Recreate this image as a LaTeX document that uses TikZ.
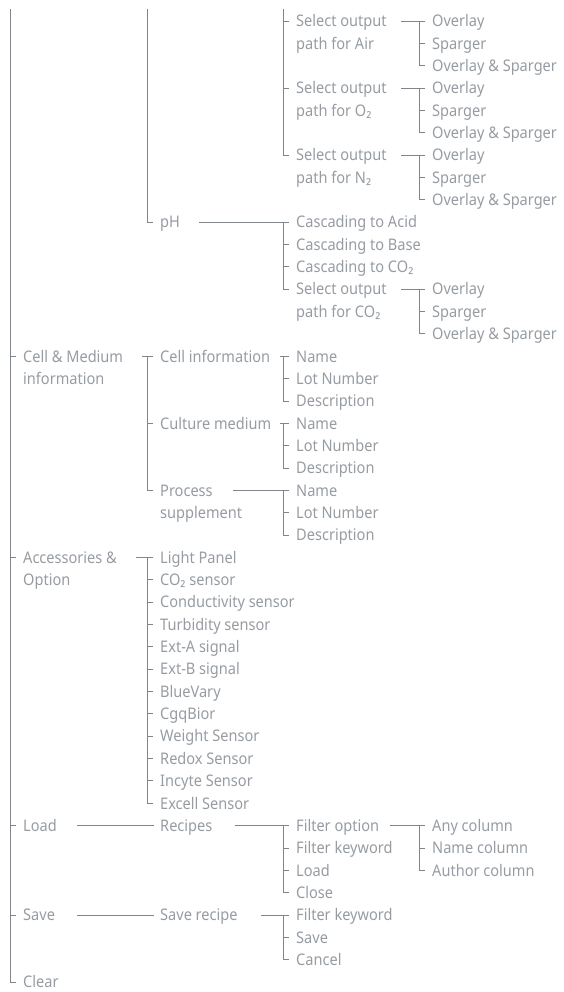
\documentclass[tikz,border=0pt]{standalone}
\usepackage{fontspec}
\setmainfont[FakeStretch=0.91]{Noto Sans}
\usetikzlibrary{calc}
\definecolor{txtc}{RGB}{150,156,162}
\definecolor{linec}{RGB}{128,134,140}
\newcommand{\rowy}[1]{{21+22.35*#1}}
\newcommand{\brk}[4]{%
  \draw[ln] (#1 |- #2.west) -- (#1 |- #3.west) -- ++(6,0);
  \foreach \m in {#4} {\draw[ln] (#1 |- \m.west) -- ++(6,0);}
}
\newcommand{\topline}[4]{% parent, dx, vertical, first child
  \draw[ln] ($(#1.west)+(#2,0)$) -- ($(#3 |- #4.west)+(6,0)$);
}
\begin{document}
\begin{tikzpicture}[x=1pt,y=-1pt,
  lbl/.style={anchor=west, inner sep=0pt, text height=11.5pt, text depth=0pt,
    text=txtc, font=\fontsize{16}{19}\selectfont},
  ln/.style={draw=linec, line width=0.9pt}]
\useasboundingbox (0,0) rectangle (564,992);
\coordinate (v1) at (10,9);
\coordinate (v2) at (147,9);
\coordinate (v3) at (283,9);
\coordinate (v4) at (419,9);
% ---- nodes
\node[lbl] (sa)  at (296,\rowy{0}) {Select output};
\node[lbl] (sa2) at (296,\rowy{1}) {path for Air};
\node[lbl] (oa1) at (432,\rowy{0}) {Overlay};
\node[lbl] (oa2) at (432,\rowy{1}) {Sparger};
\node[lbl] (oa3) at (432,\rowy{2}) {Overlay \& Sparger};
\node[lbl] (so)  at (296,\rowy{3}) {Select output};
\node[lbl] (so2) at (296,\rowy{4}) {path for O₂};
\node[lbl] (oo1) at (432,\rowy{3}) {Overlay};
\node[lbl] (oo2) at (432,\rowy{4}) {Sparger};
\node[lbl] (oo3) at (432,\rowy{5}) {Overlay \& Sparger};
\node[lbl] (sn)  at (296,\rowy{6}) {Select output};
\node[lbl] (sn2) at (296,\rowy{7}) {path for N₂};
\node[lbl] (on1) at (432,\rowy{6}) {Overlay};
\node[lbl] (on2) at (432,\rowy{7}) {Sparger};
\node[lbl] (on3) at (432,\rowy{8}) {Overlay \& Sparger};
\node[lbl] (ph)  at (160,\rowy{9}) {pH};
\node[lbl] (ca)  at (296,\rowy{9}) {Cascading to Acid};
\node[lbl] (cb)  at (296,\rowy{10}) {Cascading to Base};
\node[lbl] (cc)  at (296,\rowy{11}) {Cascading to CO₂};
\node[lbl] (sc)  at (296,\rowy{12}) {Select output};
\node[lbl] (sc2) at (296,\rowy{13}) {path for CO₂};
\node[lbl] (oc1) at (432,\rowy{12}) {Overlay};
\node[lbl] (oc2) at (432,\rowy{13}) {Sparger};
\node[lbl] (oc3) at (432,\rowy{14}) {Overlay \& Sparger};
\node[lbl] (cm)  at (23,\rowy{15}) {Cell \& Medium};
\node[lbl] (cm2) at (23,\rowy{16}) {information};
\node[lbl] (ci)  at (160,\rowy{15}) {Cell information};
\node[lbl] (n1)  at (296,\rowy{15}) {Name};
\node[lbl] (l1)  at (296,\rowy{16}) {Lot Number};
\node[lbl] (d1)  at (296,\rowy{17}) {Description};
\node[lbl] (cu)  at (160,\rowy{18}) {Culture medium};
\node[lbl] (n2)  at (296,\rowy{18}) {Name};
\node[lbl] (l2)  at (296,\rowy{19}) {Lot Number};
\node[lbl] (d2)  at (296,\rowy{20}) {Description};
\node[lbl] (pr)  at (160,\rowy{21}) {Process};
\node[lbl] (pr2) at (160,\rowy{22}) {supplement};
\node[lbl] (n3)  at (296,\rowy{21}) {Name};
\node[lbl] (l3)  at (296,\rowy{22}) {Lot Number};
\node[lbl] (d3)  at (296,\rowy{23}) {Description};
\node[lbl] (acc) at (23,\rowy{24}) {Accessories \&};
\node[lbl] (acc2) at (23,\rowy{25}) {Option};
\node[lbl] (a1)  at (160,\rowy{24}) {Light Panel};
\node[lbl] (a2)  at (160,\rowy{25}) {CO₂ sensor};
\node[lbl] (a3)  at (160,\rowy{26}) {Conductivity sensor};
\node[lbl] (a4)  at (160,\rowy{27}) {Turbidity sensor};
\node[lbl] (a5)  at (160,\rowy{28}) {Ext-A signal};
\node[lbl] (a6)  at (160,\rowy{29}) {Ext-B signal};
\node[lbl] (a7)  at (160,\rowy{30}) {BlueVary};
\node[lbl] (a8)  at (160,\rowy{31}) {CgqBior};
\node[lbl] (a9)  at (160,\rowy{32}) {Weight Sensor};
\node[lbl] (a10) at (160,\rowy{33}) {Redox Sensor};
\node[lbl] (a11) at (160,\rowy{34}) {Incyte Sensor};
\node[lbl] (a12) at (160,\rowy{35}) {Excell Sensor};
\node[lbl] (load) at (23,\rowy{36}) {Load};
\node[lbl] (rec) at (160,\rowy{36}) {Recipes};
\node[lbl] (fo)  at (296,\rowy{36}) {Filter option};
\node[lbl] (fk)  at (296,\rowy{37}) {Filter keyword};
\node[lbl] (ld)  at (296,\rowy{38}) {Load};
\node[lbl] (cl)  at (296,\rowy{39}) {Close};
\node[lbl] (ac)  at (432,\rowy{36}) {Any column};
\node[lbl] (nc)  at (432,\rowy{37}) {Name column};
\node[lbl] (au)  at (432,\rowy{38}) {Author column};
\node[lbl] (save) at (23,\rowy{40}) {Save};
\node[lbl] (sr)  at (160,\rowy{40}) {Save recipe};
\node[lbl] (fk2) at (296,\rowy{40}) {Filter keyword};
\node[lbl] (sv)  at (296,\rowy{41}) {Save};
\node[lbl] (cn)  at (296,\rowy{42}) {Cancel};
\node[lbl] (clear) at (23,\rowy{43}) {Clear};
% ---- continuing lines from the top
\draw[ln] (v1) -- (v1 |- clear.west) -- ++(6,0);
\foreach \n in {cm,acc,load,save} {\draw[ln] (v1 |- \n.west) -- ++(6,0);}
\draw[ln] (v2) -- (v2 |- ph.west) -- ++(6,0);
\draw[ln] (v3) -- (v3 |- sn.west) -- ++(6,0);
\foreach \n in {sa,so} {\draw[ln] (v3 |- \n.west) -- ++(6,0);}
% ---- groups
\topline{sa}{105}{v4}{oa1} \brk{v4}{oa1}{oa3}{oa2}
\topline{so}{105}{v4}{oo1} \brk{v4}{oo1}{oo3}{oo2}
\topline{sn}{105}{v4}{on1} \brk{v4}{on1}{on3}{on2}
\topline{ph}{39}{v3}{ca} \brk{v3}{ca}{sc}{cb,cc}
\topline{sc}{105}{v4}{oc1} \brk{v4}{oc1}{oc3}{oc2}
\topline{cm}{119}{v2}{ci} \brk{v2}{ci}{pr}{cu}
\topline{ci}{120}{v3}{n1} \brk{v3}{n1}{d1}{l1}
\topline{cu}{120}{v3}{n2} \brk{v3}{n2}{d2}{l2}
\topline{pr}{73}{v3}{n3} \brk{v3}{n3}{d3}{l3}
\topline{acc}{113}{v2}{a1} \brk{v2}{a1}{a12}{a2,a3,a4,a5,a6,a7,a8,a9,a10,a11}
\draw[ln] ($(load.west)+(54,0)$) -- ($(rec.west)+(-6,0)$);
\topline{rec}{75}{v3}{fo} \brk{v3}{fo}{cl}{fk,ld}
\topline{fo}{94}{v4}{ac} \brk{v4}{ac}{au}{nc}
\draw[ln] ($(save.west)+(54,0)$) -- ($(sr.west)+(-6,0)$);
\topline{sr}{101}{v3}{fk2} \brk{v3}{fk2}{cn}{sv}
\end{tikzpicture}
\end{document}
